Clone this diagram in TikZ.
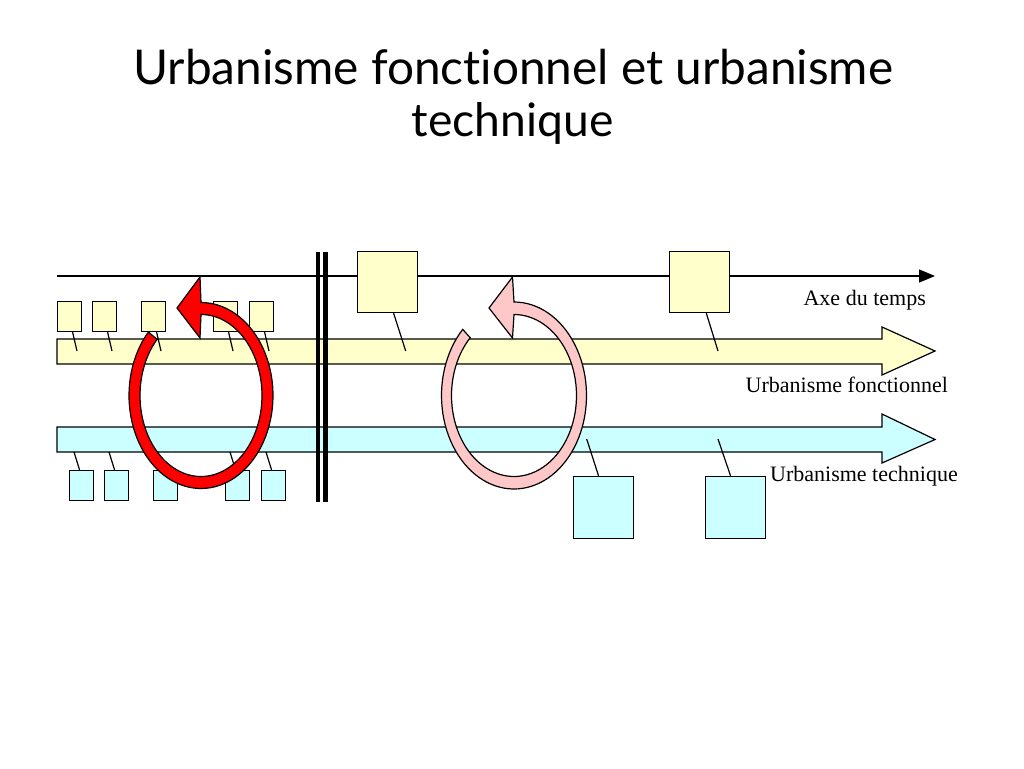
\documentclass[tikz,border=0pt]{standalone}
\usepackage{fontspec}
\setmainfont{Liberation Serif}
\newfontfamily\titlefont[RawFeature={-liga;-dlig}]{Lato}
\definecolor{ylw}{HTML}{FFFFCC}
\definecolor{cyn}{HTML}{CCFFFF}
\definecolor{pnk}{HTML}{FFC8C8}
\definecolor{rd}{HTML}{FF0000}
\begin{document}
\begin{tikzpicture}[x=1pt,y=-1pt,line join=miter,
  outl/.style={draw=black,line width=1.2pt},
  bx/.style={outl,rectangle,inner sep=0pt,anchor=north west},
  sybox/.style={bx,fill=ylw,minimum width=24pt,minimum height=30pt},
  sbbox/.style={bx,fill=cyn,minimum width=24pt,minimum height=30pt},
  bybox/.style={bx,fill=ylw,minimum width=60pt,minimum height=61pt},
  bbbox/.style={bx,fill=cyn,minimum width=60pt,minimum height=62pt},
  conn/.style={draw=black,line width=1.2pt},
  lbl/.style={inner sep=0pt,font=\fontsize{22}{26}\selectfont},
  ttl/.style={inner sep=0pt}]
\useasboundingbox[fill=white] (0,0) rectangle (1024,768);

% title
\node[ttl,anchor=base west] (t1) at (133,84.3)
  {\resizebox{760pt}{35.3pt}{\titlefont\fontsize{50}{60}\selectfont Urbanisme fonctionnel et urbanisme}};
\node[ttl,anchor=base west] (t2) at (411.7,136.7)
  {\resizebox{201.6pt}{34pt}{\titlefont\fontsize{50}{60}\selectfont technique}};

% time axis
\coordinate (ax0) at (57,276);
\coordinate (ax1) at (920,276);
\draw[line width=1.2pt] (ax0) -- (ax1);
\fill (919,269.3) -- (935,276) -- (919,282.7) -- cycle;

% bands
\filldraw[outl,fill=ylw] (57,339) -- (882,339) -- (882,327) -- (935,351) -- (882,375) -- (882,364) -- (57,364) -- cycle;
\filldraw[outl,fill=cyn] (57,427) -- (882,427) -- (882,414) -- (935,439.5) -- (882,463) -- (882,452) -- (57,452) -- cycle;

% vertical separator
\coordinate (v1t) at (318,251.7); \coordinate (v1b) at (318,501.7);
\coordinate (v2t) at (325.5,251.7); \coordinate (v2b) at (325.5,501.7);
\draw[line width=4.5pt] (v1t) -- (v1b);
\draw[line width=4.5pt] (v2t) -- (v2b);

% labels
\node[lbl,anchor=base east] (lax) at (926,305.5) {Axe du temps};
\node[lbl,anchor=base west] (lfo) at (745.5,392.5) {Urbanisme fonctionnel};
\node[lbl,anchor=base west] (lte) at (770,481) {Urbanisme technique};

% small yellow boxes
\foreach \i/\xx in {1/57,2/92,3/141,4/213,5/249}{
  \node[sybox] (y\i) at (\xx,301) {};
  \coordinate (ya\i) at (\xx+20,351);
  \draw[conn] ([xshift=3pt]y\i.south) -- (ya\i);
}
% small blue boxes
\foreach \i/\xx in {1/69,2/104,3/153,4/225,5/261}{
  \node[sbbox] (b\i) at (\xx,470) {};
  \coordinate (ba\i) at (\xx+5,452);
  \draw[conn] (ba\i) -- ([xshift=-2pt]b\i.north);
}
% big boxes
\node[bybox] (Y1) at (357,251) {};
\node[bybox] (Y2) at (669,251) {};
\node[bbbox] (B1) at (573,476) {};
\node[bbbox] (B2) at (705,476) {};
\coordinate (Ya1) at (405.7,351);
\coordinate (Ya2) at (718,351);
\coordinate (Ba1) at (586.7,439);
\coordinate (Ba2) at (718,439);
\draw[conn] ([xshift=6pt]Y1.south) -- (Ya1);
\draw[conn] ([xshift=6.7pt]Y2.south) -- (Ya2);
\draw[conn] (Ba1) -- ([xshift=-5pt]B1.north);
\draw[conn] (Ba2) -- ([xshift=-5pt]B2.north);

% red circular arrow
\filldraw[outl,fill=rd] plot[domain=137:450,samples=90] ({201+72*cos(\x)},{395.5-93*sin(\x)})
  -- (200,277) -- (177,308) -- (200,338)
  -- plot[domain=450:136,samples=90] ({201+61*cos(\x)},{395.5-81*sin(\x)}) -- cycle;

% pink circular arrow
\filldraw[outl,fill=pnk] plot[domain=135:450,samples=90] ({514+72.5*cos(\x)},{395.5-93.5*sin(\x)})
  -- (512.5,277) -- (489,308) -- (512.5,338)
  -- plot[domain=450:134.5,samples=90] ({514+62.5*cos(\x)},{395.5-81*sin(\x)}) -- cycle;
\end{tikzpicture}
\end{document}
